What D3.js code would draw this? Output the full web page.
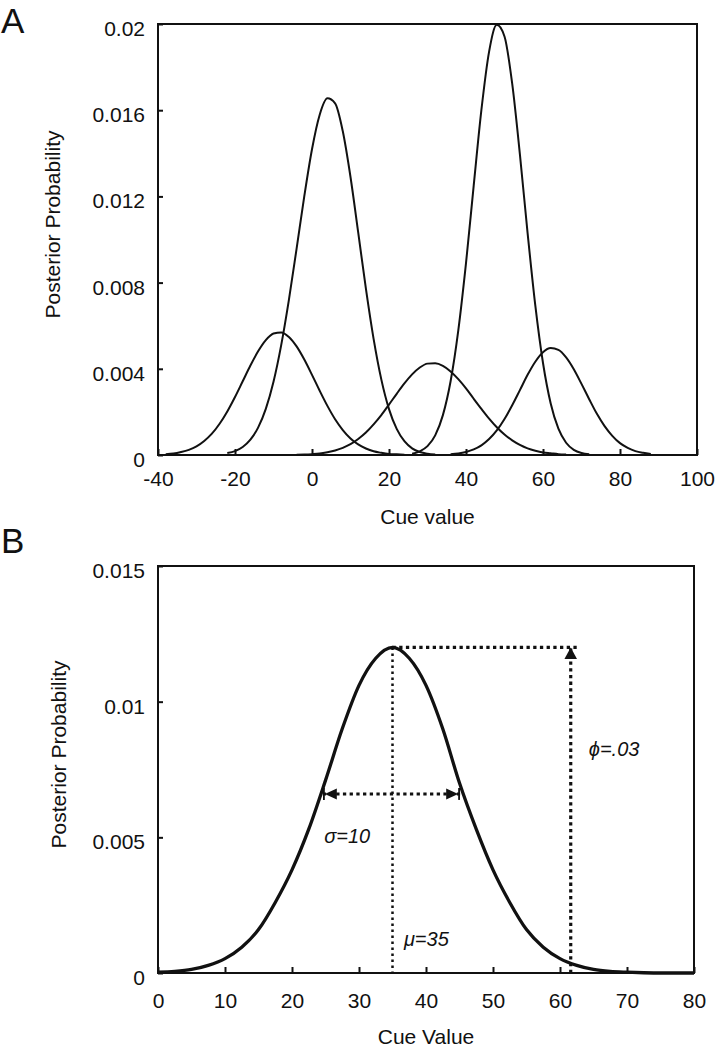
<!DOCTYPE html>
<html>
<head>
<meta charset="utf-8">
<script src="https://cdn.jsdelivr.net/npm/d3@7"></script>
<style>
  body { margin: 0; background: #fff; }
  svg { display: block; font-family: 'Liberation Sans', Arial, sans-serif; }
  .tick text { font-size: 21px; fill: #111; }
  .tick line { stroke: #111; stroke-width: 2; }
</style>
</head>
<body>
<div id="chart"></div>
<script>
// panel A: five posterior curves, [cue, probability]
const curveA1 = [[-38,0.00004],[-36,0.00007],[-34,0.00014],[-32,0.00024],[-30,0.0004],[-28,0.00065],[-26,0.00099],[-24,0.00145],[-22,0.00202],[-20,0.00269],[-18,0.00342],[-16,0.00415],[-14,0.00481],[-12,0.00533],[-10,0.00564],[-8,0.00569],[-6,0.00548],[-4,0.00504],[-2,0.00443],[0,0.00372],[2,0.00298],[4,0.00228],[6,0.00166],[8,0.00116],[10,0.00077],[12,0.00049],[14,0.0003],[16,0.00017],[18,0.0001],[20,0.00005],[22,0.00003],[24,0.00001]];
const curveA2 = [[-22,0.00009],[-20,0.00018],[-18,0.00037],[-16,0.00071],[-14,0.00127],[-12,0.00214],[-10,0.0034],[-8,0.0051],[-6,0.0072],[-4,0.00958],[-2,0.01201],[0,0.01419],[2,0.01579],[4,0.01655],[6,0.01632],[8,0.01502],[10,0.0129],[12,0.01033],[14,0.00772],[16,0.00539],[18,0.00351],[20,0.00213],[22,0.00121],[24,0.00064],[26,0.00031],[28,0.00014],[30,0.00006],[32,0.00002]];
const curveA3 = [[-4,0.00001],[-2,0.00002],[0,0.00004],[2,0.00007],[4,0.00013],[6,0.00021],[8,0.00033],[10,0.0005],[12,0.00074],[14,0.00104],[16,0.00142],[18,0.00185],[20,0.00234],[22,0.00284],[24,0.00332],[26,0.00374],[28,0.00406],[30,0.00424],[32,0.00426],[34,0.00414],[36,0.00388],[38,0.00352],[40,0.00309],[42,0.00261],[44,0.00214],[46,0.00169],[48,0.00129],[50,0.00095],[52,0.00068],[54,0.00047],[56,0.00031],[58,0.0002],[60,0.00012],[62,0.00008],[64,0.00004],[66,0.00002]];
const curveA4 = [[26,0.00006],[28,0.00017],[30,0.00041],[32,0.00091],[34,0.00185],[36,0.00342],[38,0.00578],[40,0.0089],[42,0.0125],[44,0.01601],[46,0.01872],[48,0.01996],[50,0.01942],[52,0.01723],[54,0.01395],[56,0.0103],[58,0.00694],[60,0.00427],[62,0.00239],[64,0.00122],[66,0.00057],[68,0.00024],[70,0.00009],[72,0.00003]];
const curveA5 = [[36,0.00004],[38,0.00007],[40,0.00014],[42,0.00026],[44,0.00045],[46,0.00074],[48,0.00114],[50,0.00167],[52,0.00231],[54,0.00301],[56,0.00372],[58,0.00433],[60,0.00477],[62,0.00496],[64,0.00488],[66,0.00453],[68,0.00398],[70,0.0033],[72,0.00259],[74,0.00191],[76,0.00134],[78,0.00089],[80,0.00055],[82,0.00033],[84,0.00018],[86,0.0001],[88,0.00005]];

// panel B: single posterior
const curveB = [[0,0.00003],[2.5,0.00006],[5,0.00013],[7.5,0.00028],[10,0.00053],[12.5,0.00095],[15,0.0016],[17.5,0.0026],[20,0.0038],[22.5,0.0053],[25,0.0071],[27.5,0.009],[30,0.0106],[32.5,0.0116],[35,0.012],[37.5,0.0116],[40,0.0106],[42.5,0.009],[45,0.007],[47.5,0.0053],[50,0.0038],[52.5,0.0026],[55,0.0016],[57.5,0.00095],[60,0.00053],[62.5,0.00028],[65,0.00013],[67.5,0.00006],[70,0.00003],[72.5,0.00001],[75,0],[77.5,0],[80,0]];

const xTicksA = [-40, -20, 0, 20, 40, 60, 80, 100];
const yTicksA = [0, 0.004, 0.008, 0.012, 0.016, 0.02];
const xTicksB = [0, 10, 20, 30, 40, 50, 60, 70, 80];
const yTicksB = [0, 0.005, 0.01, 0.015];

// annotation values for panel B
const mu = 35;
const peak = 0.012;
const sigmaSpan = [24.6, 45.1];
const sigmaLevel = 0.0066;
const phiX = 61.6;
const peakLineEnd = 62.5;

const svg = d3.select('#chart').append('svg')
  .attr('width', 719)
  .attr('height', 1050);

const defs = svg.append('defs');
defs.append('marker')
  .attr('id', 'tri')
  .attr('viewBox', '0 0 12 13')
  .attr('refX', 11).attr('refY', 6.5)
  .attr('markerWidth', 12).attr('markerHeight', 13)
  .attr('markerUnits', 'userSpaceOnUse')
  .attr('orient', 'auto-start-reverse')
  .append('path')
  .attr('d', 'M0,0L12,6.5L0,13Z')
  .attr('fill', '#111');
const bar = defs.append('marker')
  .attr('id', 'tribar')
  .attr('viewBox', '0 0 14 12')
  .attr('refX', 14).attr('refY', 6)
  .attr('markerWidth', 14).attr('markerHeight', 12)
  .attr('markerUnits', 'userSpaceOnUse')
  .attr('orient', 'auto-start-reverse');
bar.append('path').attr('d', 'M0,0.5L12,6L0,11.5Z').attr('fill', '#111');
bar.append('rect').attr('x', 12).attr('y', 0).attr('width', 2).attr('height', 12).attr('fill', '#111');

const drawFrame = (x, y, xTicks, yTicks, xPad, xTitle, xTitleY, yTitleX) => {
  const [x0, x1] = x.range();
  const [y0, y1] = y.range();

  svg.append('g')
    .attr('transform', `translate(0,${y0})`)
    .call(d3.axisBottom(x).tickValues(xTicks).tickFormat(String)
      .tickSizeInner(-6).tickSizeOuter(0).tickPadding(xPad))
    .call(g => g.select('.domain').remove());

  svg.append('g')
    .attr('transform', `translate(${x0},0)`)
    .call(d3.axisLeft(y).tickValues(yTicks).tickFormat(String)
      .tickSizeInner(-5).tickSizeOuter(0).tickPadding(13))
    .call(g => g.select('.domain').remove())
    .call(g => g.selectAll('.tick text').attr('dy', '0.55em'));

  svg.append('rect')
    .attr('x', x0).attr('y', y1)
    .attr('width', x1 - x0).attr('height', y0 - y1)
    .attr('fill', 'none')
    .attr('stroke', '#111')
    .attr('stroke-width', 2);

  svg.append('text')
    .attr('x', (x0 + x1) / 2).attr('y', xTitleY)
    .attr('text-anchor', 'middle')
    .attr('font-size', 21).attr('fill', '#111')
    .text(xTitle);

  svg.append('text')
    .attr('transform', `translate(${yTitleX},${(y0 + y1) / 2 - 15}) rotate(-90)`)
    .attr('text-anchor', 'middle')
    .attr('font-size', 21).attr('fill', '#111')
    .text('Posterior Probability');
};

// Panel A
const xA = d3.scaleLinear().domain([-40, 100]).range([158, 697]);
const yA = d3.scaleLinear().domain([0, 0.02]).range([455, 24]);
drawFrame(xA, yA, xTicksA, yTicksA, 16, 'Cue value', 524, 60);

const lineA = d3.line()
  .x(d => xA(d[0]))
  .y(d => yA(d[1]))
  .curve(d3.curveMonotoneX);

svg.append('g')
  .selectAll('path')
  .data([curveA1, curveA2, curveA3, curveA4, curveA5])
  .join('path')
  .attr('d', lineA)
  .attr('fill', 'none')
  .attr('stroke', '#111')
  .attr('stroke-width', 2);

// Panel B
const xB = d3.scaleLinear().domain([0, 80]).range([158, 694]);
const yB = d3.scaleLinear().domain([0, 0.015]).range([973, 566]);
drawFrame(xB, yB, xTicksB, yTicksB, 20, 'Cue Value', 1044, 66);

const lineB = d3.line()
  .x(d => xB(d[0]))
  .y(d => yB(d[1]))
  .curve(d3.curveMonotoneX);

const notes = svg.append('g')
  .attr('fill', 'none')
  .attr('stroke', '#111');

// mu line, thin dots
notes.append('line')
  .attr('x1', xB(mu)).attr('y1', yB(peak))
  .attr('x2', xB(mu)).attr('y2', yB(0))
  .attr('stroke-width', 2.5)
  .attr('stroke-dasharray', '2.5,3.5');

// peak level line
notes.append('line')
  .attr('x1', xB(mu)).attr('y1', yB(peak))
  .attr('x2', xB(peakLineEnd)).attr('y2', yB(peak))
  .attr('stroke-width', 3.2)
  .attr('stroke-dasharray', '3.3,3.4');

// phi arrow
notes.append('line')
  .attr('x1', xB(phiX)).attr('y1', yB(0))
  .attr('x2', xB(phiX)).attr('y2', yB(peak) + 1)
  .attr('stroke-width', 3.2)
  .attr('stroke-dasharray', '3.3,3.4')
  .attr('marker-end', 'url(#tri)');

// sigma arrow
notes.append('line')
  .attr('x1', xB(sigmaSpan[0])).attr('y1', yB(sigmaLevel))
  .attr('x2', xB(sigmaSpan[1])).attr('y2', yB(sigmaLevel))
  .attr('stroke-width', 3)
  .attr('stroke-dasharray', '3.3,3.4')
  .attr('marker-start', 'url(#tribar)')
  .attr('marker-end', 'url(#tribar)');

svg.append('path')
  .datum(curveB)
  .attr('d', lineB)
  .attr('fill', 'none')
  .attr('stroke', '#111')
  .attr('stroke-width', 3.3);

const labels = [
  {t: 'σ=10', x: 24.8, y: 0.0048},
  {t: 'μ=35', x: 36.7, y: 0.001},
  {t: 'ϕ=.03', x: 64.3, y: 0.008}
];
svg.append('g')
  .selectAll('text')
  .data(labels)
  .join('text')
  .attr('x', d => xB(d.x))
  .attr('y', d => yB(d.y))
  .attr('font-size', 20)
  .attr('font-style', 'italic')
  .attr('fill', '#111')
  .text(d => d.t);

// panel letters
svg.append('text').attr('x', 1).attr('y', 33)
  .attr('font-size', 35).attr('fill', '#111').text('A');
svg.append('text').attr('x', 1).attr('y', 553)
  .attr('font-size', 35).attr('fill', '#111').text('B');
</script>
</body>
</html>
